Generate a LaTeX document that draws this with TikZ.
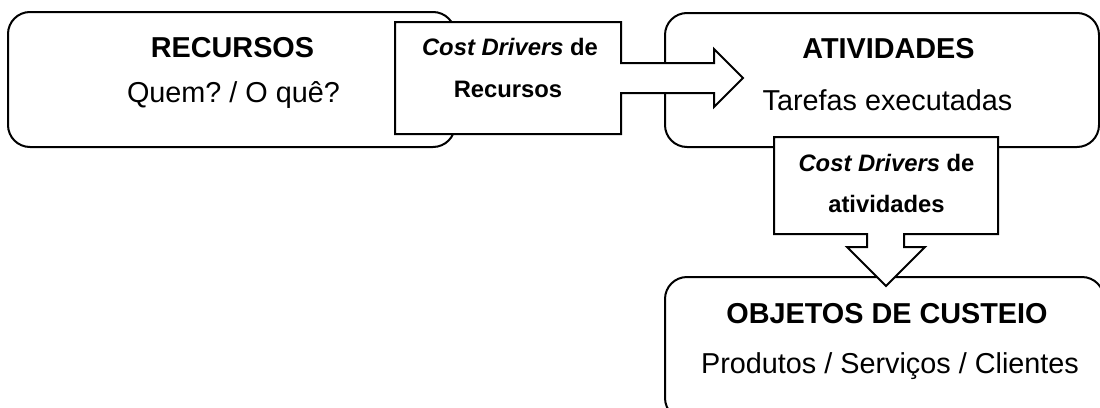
\documentclass[tikz,border=0pt]{standalone}
\usepackage{fontspec}
\setmainfont{Liberation Sans}
\frenchspacing
\newcommand\LargeTxt{\fontsize{28.8}{34}\selectfont}
\newcommand\SmallTxt{\fontsize{23.8}{28}\selectfont\bfseries}
\tikzset{
  stage/.style={draw=black, line width=2pt, rounded corners=22pt, fill=white,
    inner sep=0pt, outer sep=0pt},
  driver/.style={draw=black, line width=2pt, fill=white, line join=miter},
  title/.style={anchor=base, inner sep=0pt, font=\LargeTxt\bfseries},
  detail/.style={anchor=base, inner sep=0pt, font=\LargeTxt},
  drvtext/.style={anchor=base, inner sep=0pt, font=\SmallTxt},
}
\begin{document}
\begin{tikzpicture}[x=1pt, y=-1pt]
\useasboundingbox (0,0) rectangle (1100,407);
\clip (0,0) rectangle (1100,407);

% stage boxes
\node[stage, minimum width=447pt, minimum height=135pt] (rec) at (231.5,79.5) {};
\node[stage, minimum width=434pt, minimum height=134pt] (atv) at (882,80) {};
\node[stage, minimum width=439pt, minimum height=143pt] (obj) at (884.5,348.5) {};

% driver callouts with block arrows
\coordinate (d1) at (395,22);
\draw[driver] (d1) -- ++(226,0) -- ++(0,41) -- ++(93,0) -- ++(0,-14)
  -- ++(29,29) -- ++(-29,29) -- ++(0,-14) -- ++(-93,0) -- ++(0,41)
  -- ++(-226,0) -- cycle;
\coordinate (d2) at (774,137);
\draw[driver] (d2) -- ++(224,0) -- ++(0,97) -- ++(-94,0) -- ++(0,13)
  -- ++(21,0) -- ++(-39,39) -- ++(-39,-39) -- ++(20,0) -- ++(0,-13)
  -- ++(-93,0) -- cycle;

% texts
\node[title]  (recT) at (232.5,57)  {RECURSOS};
\node[detail] (recD) at (233.5,102) {Quem? / O quê?};
\node[title]  (atvT) at (888.5,58)  {ATIVIDADES};
\node[detail] (atvD) at (887.5,110) {Tarefas executadas};
\node[title]  (objT) at (887,323)   {OBJETOS DE CUSTEIO};
\node[detail] (objD) at (890,373)   {Produtos / Serviços / Clientes};

\node[drvtext] (d1a) at (510,55)   {\itshape Cost Drivers\upshape{} de};
\node[drvtext] (d1b) at (508,97)   {Recursos};
\node[drvtext] (d2a) at (886.5,171) {\itshape Cost Drivers\upshape{} de};
\node[drvtext] (d2b) at (886.5,212) {atividades};
\end{tikzpicture}
\end{document}
